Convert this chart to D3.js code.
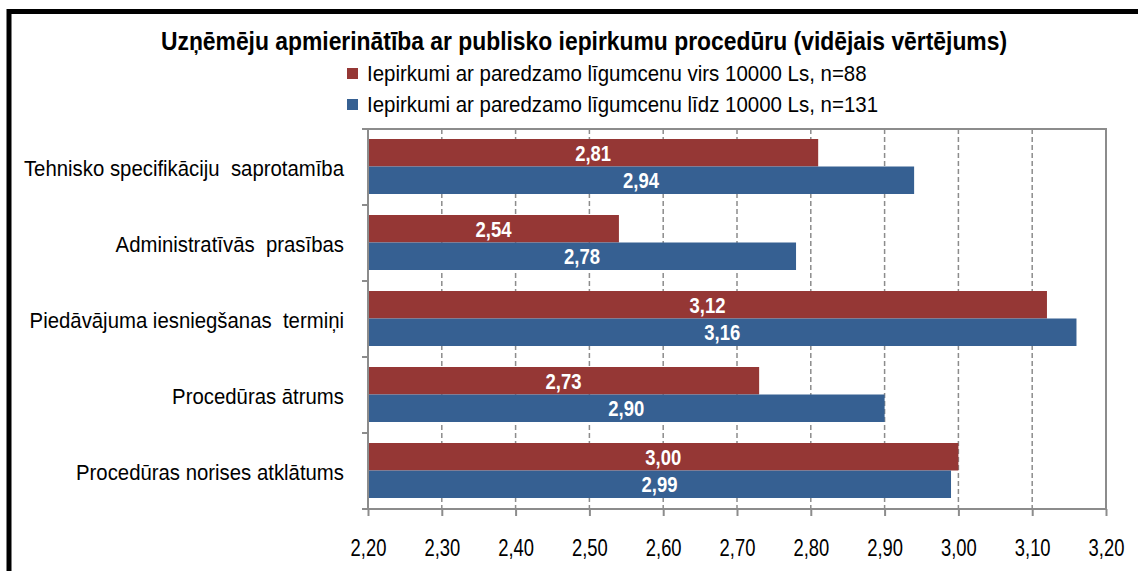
<!DOCTYPE html>
<html>
<head>
<meta charset="utf-8">
<script src="https://cdn.jsdelivr.net/npm/d3@7"></script>
<style>
  body { margin: 0; background: #fff; }
  svg { display: block; }
  text { font-family: "Liberation Sans", Arial, sans-serif; }
</style>
</head>
<body>
<div id="chart"></div>
<script>
// Chart data
const categories = [
  "Tehnisko specifikāciju  saprotamība",
  "Administratīvās  prasības",
  "Piedāvājuma iesniegšanas  termiņi",
  "Procedūras ātrums",
  "Procedūras norises atklātums"
];
const seriesNames = [
  "Iepirkumi ar paredzamo līgumcenu virs 10000 Ls, n=88",
  "Iepirkumi ar paredzamo līgumcenu līdz 10000 Ls, n=131"
];
const above10000 = [2.81, 2.54, 3.12, 2.73, 3.00];
const below10000 = [2.94, 2.78, 3.16, 2.90, 2.99];
const tickValues = [2.2, 2.3, 2.4, 2.5, 2.6, 2.7, 2.8, 2.9, 3.0, 3.1, 3.2];
const colors = ["#953735", "#366092"];

const width = 1138;
const height = 571;
const plot = { left: 368, right: 1106, top: 129, bottom: 509 };

const svg = d3.select("#chart").append("svg")
    .attr("width", width)
    .attr("height", height);

// outer black frame (cut off at right and bottom)
svg.append("rect")
    .attr("x", 9).attr("y", 11.5)
    .attr("width", width + 20).attr("height", height + 20)
    .attr("fill", "none")
    .attr("stroke", "#000")
    .attr("stroke-width", 5);

const x = d3.scaleLinear().domain([2.2, 3.2]).range([plot.left, plot.right]);
const y = d3.scaleBand().domain(categories).range([plot.top, plot.bottom]);
const inner = d3.scaleBand().domain([0, 1]).range([0, 55]);

const fmt = v => d3.format(".2f")(v).replace(".", ",");

// dashed gridlines
svg.append("g").selectAll("line")
    .data(tickValues.slice(1, -1))
    .enter().append("line")
    .attr("x1", d => x(d)).attr("x2", d => x(d))
    .attr("y1", plot.top).attr("y2", plot.bottom)
    .attr("stroke", "#8c8c8c")
    .attr("stroke-width", 1.5)
    .attr("stroke-dasharray", "5,3");

// plot border top & right
svg.append("path")
    .attr("d", `M${plot.left},${plot.top}H${plot.right}V${plot.bottom}`)
    .attr("fill", "none")
    .attr("stroke", "#8c8c8c")
    .attr("stroke-width", 2);

// bars
const groups = svg.append("g").selectAll("g")
    .data(categories)
    .enter().append("g")
    .attr("transform", d => `translate(0,${y(d) + 10})`);

[above10000, below10000].forEach((values, s) => {
    groups.append("rect")
        .attr("x", x(2.2))
        .attr("y", inner(s))
        .attr("width", (d, i) => x(values[i]) - x(2.2))
        .attr("height", inner.bandwidth())
        .attr("fill", colors[s]);

    // narrow-looking bold labels (no Arial Narrow installed, so squeeze)
    groups.append("text")
        .attr("transform", (d, i) =>
            `translate(${(x(values[i]) + x(2.2)) / 2},${inner(s) + inner.bandwidth() / 2 + 8}) scale(0.84,1)`)
        .attr("text-anchor", "middle")
        .attr("fill", "#fff")
        .style("font-size", "22px")
        .style("font-weight", "bold")
        .text((d, i) => fmt(values[i]));
});

// x axis
const xAxis = svg.append("g")
    .attr("transform", `translate(0,${plot.bottom})`)
    .call(d3.axisBottom(x).tickValues(tickValues).tickSize(7).tickPadding(24).tickFormat(fmt));
xAxis.select(".domain").attr("stroke", "#8c8c8c").attr("stroke-width", 2)
    .attr("d", `M${plot.left - 6},0H${plot.right}`);
xAxis.selectAll(".tick line").attr("stroke", "#8c8c8c").attr("stroke-width", 2);
xAxis.selectAll(".tick text")
    .attr("fill", "#000")
    .attr("font-family", null)
    .attr("font-size", null)
    .attr("transform", "scale(0.8,1)")
    .style("font-size", "23px");

// y axis line with ticks at category boundaries
svg.append("line")
    .attr("x1", plot.left).attr("x2", plot.left)
    .attr("y1", plot.top).attr("y2", plot.bottom)
    .attr("stroke", "#8c8c8c").attr("stroke-width", 2);
svg.append("g").selectAll("line")
    .data(categories)
    .enter().append("line")
    .attr("x1", plot.left - 6).attr("x2", plot.left)
    .attr("y1", d => y(d)).attr("y2", d => y(d))
    .attr("stroke", "#8c8c8c").attr("stroke-width", 2);

// category labels
svg.append("g").selectAll("text")
    .data(categories)
    .enter().append("text")
    .attr("transform", d => `translate(344,${y(d) + y.bandwidth() / 2 + 8.5}) scale(0.925,1)`)
    .attr("text-anchor", "end")
    .style("font-size", "22px")
    .style("white-space", "pre")
    .text(d => d);

// title
svg.append("text")
    .attr("transform", "translate(584,50) scale(0.88,1)")
    .attr("text-anchor", "middle")
    .style("font-size", "26px")
    .style("font-weight", "bold")
    .text("Uzņēmēju apmierinātība ar publisko iepirkumu procedūru (vidējais vērtējums)");

// legend
const legend = svg.append("g").selectAll("g")
    .data(seriesNames)
    .enter().append("g")
    .attr("transform", (d, i) => `translate(347,${68 + i * 31})`);
legend.append("rect")
    .attr("width", 11).attr("height", 11)
    .attr("fill", (d, i) => colors[i]);
legend.append("text")
    .attr("transform", "translate(20,13) scale(0.93,1)")
    .style("font-size", "22px")
    .text(d => d);
</script>
</body>
</html>
